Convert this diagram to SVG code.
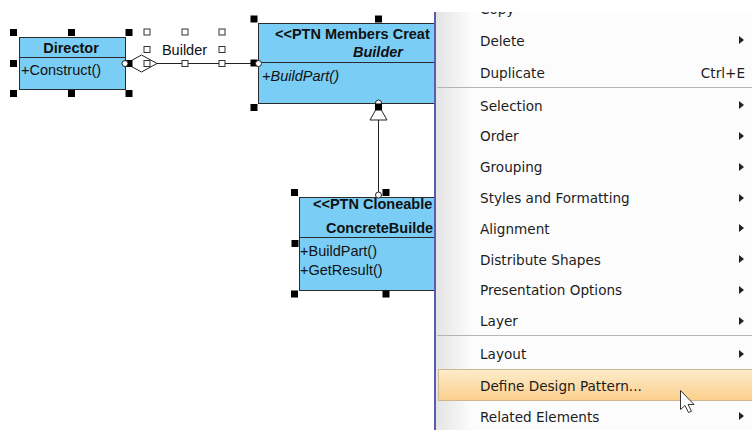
<svg xmlns="http://www.w3.org/2000/svg" width="752" height="430" viewBox="0 0 752 430">
<defs>
<style>
.box{fill:#7acef5;stroke:#2b2b2b;stroke-width:1}
.dv{stroke:#2b2b2b;stroke-width:1}
.t{font-family:"Liberation Sans",Arial,sans-serif;font-size:14.5px;fill:#111}
.b{font-weight:bold}
.i{font-style:italic}
.h{fill:#000}
.hh{fill:#fff;stroke:#333;stroke-width:1}
.pt{fill:#fff;stroke:#222;stroke-width:1}
.ln{stroke:#222;stroke-width:1;fill:none}
.m{font-family:"DejaVu Sans",Tahoma,sans-serif;font-size:13.6px;fill:#1c1c1c}
.arr{fill:#222}
.sep{stroke:#b4b4b4;stroke-width:1}
</style>
<linearGradient id="gut" x1="0" x2="1" y1="0" y2="0"><stop offset="0" stop-color="#e4e4e4"/><stop offset="1" stop-color="#fbfbfb"/></linearGradient>
<linearGradient id="hl" x1="0" x2="0" y1="0" y2="1"><stop offset="0" stop-color="#fdeccc"/><stop offset="1" stop-color="#fbcf8c"/></linearGradient>
<clipPath id="menuclip"><rect x="430" y="12" width="322" height="418"/></clipPath>
</defs>
<rect width="752" height="430" fill="#fff"/>

<g id="connectors">
<line class="ln" x1="157" y1="63.5" x2="258" y2="63.5"/>
<polygon class="pt" points="126,63.5 141.5,55 157,63.5 141.5,72"/>
<line class="ln" x1="378.5" y1="120" x2="378.5" y2="197"/>
<polygon class="pt" points="378.5,105 370,120 387,120"/>
</g>

<g id="director">
<rect class="box" x="19.5" y="37.5" width="106" height="52"/>
<line class="dv" x1="19.5" y1="57.5" x2="125.5" y2="57.5"/>
<text class="t b" x="71" y="52.5" text-anchor="middle">Director</text>
<text class="t" x="21" y="75">+Construct()</text>
<rect class="h" x="10" y="29" width="7" height="7"/>
<rect class="h" x="68" y="29" width="7" height="7"/>
<rect class="h" x="125.5" y="29" width="7" height="7"/>
<rect class="h" x="10" y="60" width="7" height="7"/>
<rect class="h" x="125.5" y="60" width="7" height="7"/>
<rect class="h" x="10" y="90" width="7" height="7"/>
<rect class="h" x="68" y="90" width="7" height="7"/>
<rect class="h" x="125.5" y="90" width="7" height="7"/>
<circle class="pt" cx="125" cy="63.5" r="3"/>
</g>

<g id="builder-label">
<text class="t" x="184.5" y="55" text-anchor="middle">Builder</text>
<rect class="hh" x="144" y="29" width="6" height="6"/>
<rect class="hh" x="182" y="29" width="6" height="6"/>
<rect class="hh" x="219" y="29" width="6" height="6"/>
<rect class="hh" x="144" y="46.5" width="6" height="6"/>
<rect class="hh" x="219" y="46.5" width="6" height="6"/>
<rect class="hh" x="144" y="60.5" width="6" height="6"/>
<rect class="hh" x="182" y="60.5" width="6" height="6"/>
<rect class="hh" x="219" y="60.5" width="6" height="6"/>
</g>

<g id="builder">
<rect class="box" x="258.5" y="23.5" width="260" height="80"/>
<line class="dv" x1="258.5" y1="62.5" x2="518.5" y2="62.5"/>
<text class="t b" x="275" y="38.5">&lt;&lt;PTN Members Creat</text>
<text class="t b i" x="378" y="57" text-anchor="middle">Builder</text>
<text class="t i" x="262" y="81">+BuildPart()</text>
<rect class="h" x="250.5" y="15.5" width="7" height="7"/>
<rect class="h" x="375" y="15.5" width="7" height="7"/>
<rect class="h" x="250.5" y="59.5" width="7" height="7"/>
<rect class="h" x="250.5" y="104" width="7" height="7"/>
<circle class="pt" cx="258.5" cy="63.5" r="3"/>
<circle class="pt" cx="378.5" cy="103" r="3"/>
<rect class="h" x="375" y="103.5" width="7" height="7"/>
</g>

<g id="concrete-builder">
<rect class="box" x="299.5" y="197.5" width="220" height="93"/>
<line class="dv" x1="299.5" y1="237.5" x2="519.5" y2="237.5"/>
<text class="t b" x="313" y="209">&lt;&lt;PTN Cloneable</text>
<text class="t b" x="326" y="232.5">ConcreteBuilde</text>
<text class="t" x="300" y="255.5">+BuildPart()</text>
<text class="t" x="300" y="275">+GetResult()</text>
<rect class="h" x="291" y="189" width="7" height="7"/>
<rect class="h" x="382.5" y="189" width="7" height="7"/>
<rect class="h" x="291.5" y="240" width="7" height="7"/>
<rect class="h" x="291" y="290.5" width="7" height="7"/>
<rect class="h" x="382.5" y="290.5" width="7" height="7"/>
<circle class="pt" cx="378.5" cy="195" r="3"/>
</g>

<g id="context-menu" clip-path="url(#menuclip)">
<rect x="436" y="12" width="316" height="418" fill="#fcfcfc"/>
<rect x="436" y="12" width="34" height="418" fill="url(#gut)"/>
<line x1="435" y1="12" x2="435" y2="430" stroke="#5b5bb0" stroke-width="2"/>
<text class="m" x="480" y="14">Copy</text>
<text class="m" x="480" y="46">Delete</text>
<polygon class="arr" points="739,36 744,40 739,44"/>
<text class="m" x="480" y="78">Duplicate</text>
<text class="m" x="745" y="78" text-anchor="end">Ctrl+E</text>
<line class="sep" x1="437" y1="87.5" x2="752" y2="87.5"/>
<text class="m" x="480" y="110.5">Selection</text>
<polygon class="arr" points="739,101 744,105 739,109"/>
<text class="m" x="480" y="141">Order</text>
<polygon class="arr" points="739,132 744,136 739,140"/>
<text class="m" x="480" y="172">Grouping</text>
<polygon class="arr" points="739,163 744,167 739,171"/>
<text class="m" x="480" y="203">Styles and Formatting</text>
<polygon class="arr" points="739,194 744,198 739,202"/>
<text class="m" x="480" y="233.5">Alignment</text>
<polygon class="arr" points="739,224 744,228 739,232"/>
<text class="m" x="480" y="264.5">Distribute Shapes</text>
<polygon class="arr" points="739,255 744,259 739,263"/>
<text class="m" x="480" y="295">Presentation Options</text>
<polygon class="arr" points="739,286 744,290 739,294"/>
<text class="m" x="480" y="326">Layer</text>
<polygon class="arr" points="739,317 744,321 739,325"/>
<line class="sep" x1="437" y1="335.5" x2="752" y2="335.5"/>
<text class="m" x="480" y="359">Layout</text>
<polygon class="arr" points="739,350 744,354 739,358"/>
<rect x="438.5" y="369.5" width="320" height="31" fill="url(#hl)" stroke="#cdb58f"/>
<text class="m" x="480" y="391">Define Design Pattern...</text>
<text class="m" x="480" y="422">Related Elements</text>
<polygon class="arr" points="739,412 744,416 739,420"/>
</g>

<g id="cursor" transform="translate(680.5,390.5)">
<path d="M0 0 V19 L4.5 15 L8 22 L11 20.8 L7.6 14 L13.5 14 Z" fill="#fff" stroke="#333" stroke-width="1" stroke-linejoin="round"/>
</g>
</svg>
